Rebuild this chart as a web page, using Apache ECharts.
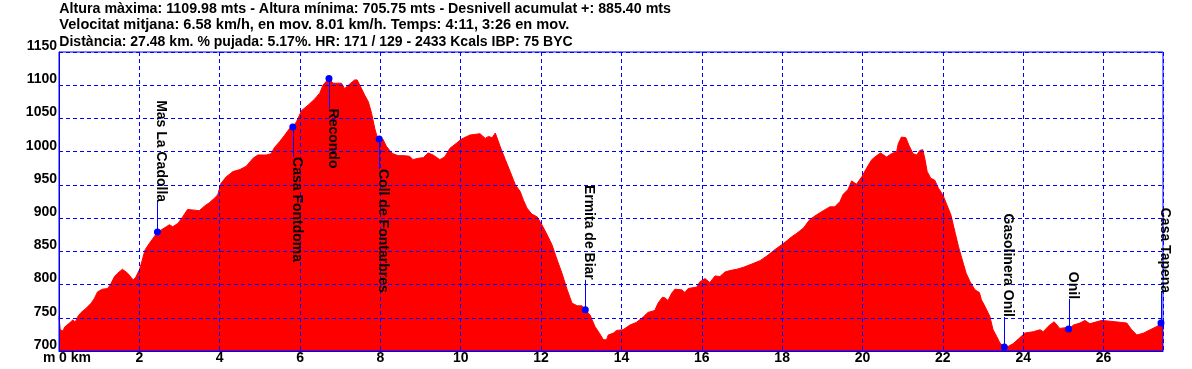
<!DOCTYPE html>
<html>
<head>
<meta charset="utf-8">
<script src="https://cdn.jsdelivr.net/npm/echarts@6/dist/echarts.min.js"></script>
<style>html,body{margin:0;padding:0;background:#fff}#c{width:1192px;height:369px}</style>
</head>
<body>
<div id="c"></div>
<script>
// ---- text ----
const headerLines = [
  "Altura màxima: 1109.98 mts - Altura mínima: 705.75 mts - Desnivell acumulat +: 885.40 mts",
  "Velocitat mitjana: 6.58 km/h, en mov. 8.01 km/h. Temps: 4:11, 3:26 en mov.",
  "Distància: 27.48 km. % pujada: 5.17%. HR: 171 / 129 - 2433 Kcals IBP: 75 BYC"
];
const yUnit = "m";
const xUnit = "km";

// ---- axis ranges ----
const xMin = 0, xMax = 27.48, xStep = 2;
const yMin = 700, yMax = 1150, yStep = 50;

// ---- elevation profile ----
const distKm = [
  0.00,0.03,0.10,0.14,0.26,0.35,0.40,0.47,0.55,0.67,0.80,0.88,0.96,1.08,1.21,1.29,1.38,1.46,1.58,1.62,
  1.71,1.79,1.85,1.91,2.00,2.06,2.14,2.25,2.37,2.45,2.54,2.67,2.75,2.83,2.96,3.08,3.20,3.37,3.49,3.62,
  3.74,3.87,3.95,4.03,4.16,4.33,4.50,4.66,4.83,4.95,5.16,5.28,5.36,5.49,5.62,5.74,5.82,5.91,6.04,6.20,
  6.36,6.49,6.57,6.67,6.72,6.82,6.95,7.03,7.11,7.24,7.36,7.42,7.53,7.61,7.70,7.78,7.86,7.92,7.98,8.06,
  8.15,8.23,8.31,8.44,8.60,8.73,8.81,8.94,9.07,9.19,9.23,9.31,9.48,9.60,9.73,9.90,10.02,10.23,10.48,10.61,
  10.69,10.78,10.86,10.98,11.11,11.23,11.36,11.48,11.56,11.65,11.77,11.90,12.02,12.15,12.27,12.40,12.52,12.65,12.77,12.90,
  13.02,13.10,13.22,13.34,13.46,13.55,13.63,13.67,13.80,13.88,14.04,14.21,14.37,14.54,14.66,14.83,14.91,15.02,15.08,15.16,
  15.25,15.33,15.50,15.58,15.66,15.75,15.87,15.95,16.08,16.20,16.33,16.45,16.58,16.70,16.87,17.04,17.29,17.45,17.62,17.83,
  17.99,18.12,18.24,18.36,18.53,18.69,18.86,19.02,19.19,19.31,19.44,19.52,19.64,19.73,19.85,19.98,20.10,20.23,20.35,20.45,
  20.60,20.72,20.85,20.89,20.97,21.08,21.16,21.26,21.35,21.43,21.50,21.55,21.61,21.70,21.80,21.89,22.00,22.10,22.20,22.31,
  22.39,22.47,22.58,22.68,22.80,22.91,22.96,23.05,23.17,23.25,23.34,23.42,23.53,23.63,23.75,23.88,24.04,24.25,24.42,24.50,
  24.62,24.77,24.91,25.04,25.13,25.25,25.41,25.54,25.66,25.83,25.96,26.29,26.58,26.70,26.83,27.00,27.16,27.33,27.43,27.48
];
const elevM = [
  752,732,730,736,742,747,743,752,758,764,772,779,789,793,794,801,812,817,823,822,
  817,811,807,811,822,834,852,862,872,879,882,887,890,887,892,902,913,912,911,918,
  923,930,935,952,962,970,973,978,990,995,995,997,1006,1015,1025,1035,1037,1045,1062,1070,
  1079,1088,1100,1107,1110,1103,1103,1103,1095,1102,1108,1108,1095,1085,1075,1058,1035,1022,1019,1019,
  1008,1002,997,994,994,993,988,990,991,998,999,995,988,992,1005,1013,1019,1025,1027,1020,
  1023,1021,1028,1008,988,970,950,940,927,915,906,902,890,875,860,837,817,792,772,768,
  768,762,754,737,726,717,717,724,727,731,732,739,743,751,758,761,772,781,780,776,
  787,793,792,788,794,795,796,804,809,803,813,812,819,821,823,826,832,836,843,853,
  860,866,872,877,885,898,905,911,917,917,925,936,943,956,951,962,975,988,994,998,
  992,997,1000,1012,1022,1021,1009,997,995,1002,1003,990,970,960,957,945,935,920,905,877,
  857,840,817,804,792,788,777,767,752,732,722,712,706,707,711,718,727,729,732,729,
  737,744,734,735,733,739,742,746,741,744,746,744,742,732,724,727,732,737,742,744
];

// ---- waypoints ----
const wpNames = ["Mas La Cadolla","Casa Fontdoma","Recondo","Coll de Fontarbres","Ermita de Biar","Gasolinera Onil","Onil","Casa Tapena"];
const wpKm    = [2.45, 5.82, 6.72, 7.97, 13.10, 23.53, 25.13, 27.43];
const wpElev  = [879, 1037, 1110, 1019, 762, 706, 733, 742];

// ---- styling ----
const FONT_FAMILY = "'Liberation Sans', Arial, Helvetica, sans-serif";
const RED = '#ff0000', BLUE = '#0000ff';
const labelFont = "bold 14px " + FONT_FAMILY;
const measureCtx = document.createElement('canvas').getContext('2d');
measureCtx.font = labelFont;

// header layout (line tops and rendered widths in the reference)
const headerX = 59.3;
const headerTops = [1.8, 18.4, 35.6];
const headerWidths = [611.7, 510, 513.4];

const chart = echarts.init(document.getElementById('c'), null, {renderer: 'canvas'});

const profile = distKm.map((d, i) => [d, elevM[i]]);
const waypoints = wpKm.map((d, i) => [d, wpElev[i], i]);

const headerGraphics = headerLines.map((t, i) => {
  const w = measureCtx.measureText(t).width;
  return {
    type: 'text', x: headerX, y: headerTops[i], scaleX: headerWidths[i] / w, z: 10,
    style: {text: t, font: labelFont, fill: '#000', align: 'left', verticalAlign: 'top'}
  };
});

chart.setOption({
  animation: false,
  backgroundColor: '#ffffff',
  textStyle: {fontFamily: FONT_FAMILY},
  grid: {left: 59, right: 29, top: 52, bottom: 18, show: true, borderColor: BLUE, borderWidth: 1, z: 3},
  graphic: headerGraphics.concat([{
    type: 'text', x: 43, y: 351, z: 10,
    style: {text: yUnit, font: labelFont, fill: '#000', align: 'left', verticalAlign: 'top'}
  }]),
  xAxis: {
    type: 'value', min: xMin, max: xMax, interval: xStep, z: 3,
    axisLine: {show: true, lineStyle: {color: BLUE, width: 1}},
    axisTick: {show: false},
    axisLabel: {
      color: '#000', fontWeight: 'bold', fontSize: 14, margin: 0,
      showMaxLabel: false, alignMinLabel: 'left',
      formatter: v => v === 0 ? ('0 ' + xUnit) : String(v)
    },
    splitLine: {show: true, lineStyle: {color: BLUE, width: 1, type: [4, 3]}}
  },
  yAxis: {
    type: 'value', min: yMin, max: yMax, interval: yStep, z: 3,
    axisLine: {show: true, lineStyle: {color: BLUE, width: 1}},
    axisTick: {show: false},
    axisLabel: {
      color: '#000', fontWeight: 'bold', fontSize: 14, margin: 2, verticalAlign: 'bottom', lineHeight: 12,
      formatter: v => String(v)
    },
    splitLine: {show: true, lineStyle: {color: BLUE, width: 1, type: [4, 3]}}
  },
  series: [
    {
      type: 'line', data: profile, symbol: 'none', silent: true, z: 2,
      lineStyle: {color: RED, width: 1},
      areaStyle: {color: RED, opacity: 1, origin: 'start'}
    },
    {
      type: 'custom', data: waypoints, z: 5, silent: true, clip: false,
      renderItem: function (params, api) {
        const p = api.coord([api.value(0), api.value(1)]);
        const name = wpNames[api.value(2)];
        const top = params.coordSys.y;
        const w = measureCtx.measureText(name).width;
        const gap = 30;
        let yEnd, textY;
        if (p[1] - gap - w >= top) { yEnd = p[1] - gap; textY = yEnd - w; }
        else { yEnd = p[1] + gap; textY = yEnd; }
        const lx = Math.round(p[0]) + 0.5;
        return {
          type: 'group',
          children: [
            {type: 'line', shape: {x1: lx, y1: p[1], x2: lx, y2: yEnd}, style: {stroke: BLUE, lineWidth: 1}},
            {type: 'circle', shape: {cx: p[0], cy: p[1], r: 3.5}, style: {fill: BLUE}},
            {type: 'text', x: lx - 3.5, y: textY, rotation: -Math.PI / 2,
             style: {text: name, font: labelFont, fill: '#000', align: 'left', verticalAlign: 'bottom'}}
          ]
        };
      }
    }
  ]
});
</script>
</body>
</html>
